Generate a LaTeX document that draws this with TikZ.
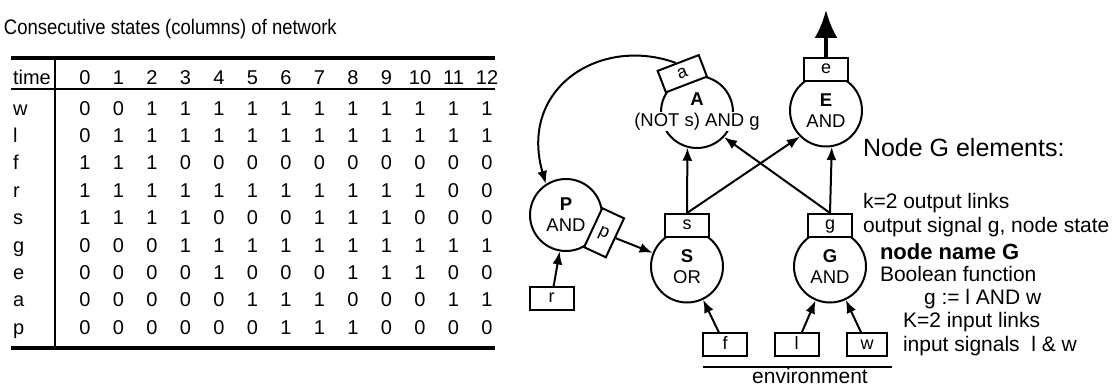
\documentclass[tikz,border=0pt]{standalone}
\usepackage{fontspec}
\setmainfont{Liberation Sans}
\newfontfamily\titlefont{Liberation Sans}[FakeStretch=0.88]
\usetikzlibrary{arrows.meta}
\usetikzlibrary{calc}
\tikzset{link/.style = {-{Latex[length = 13pt, width = 10pt]}}}
\tikzset{bigout/.style = {line width = 3.5, -{Latex[length = 28pt, width = 23pt]}}}
\tikzset{state/.style = {draw, circle, minimum size = 72, inner sep = 0, align = center,
                         font = \fontsize{18.5}{21}\selectfont}}
\tikzset{sig/.style = {draw, fill = white, minimum width = 44, minimum height = 23, inner sep = 0,
                       text height = 13, text depth = 4, font = \fontsize{18}{18}\selectfont}}
\tikzset{tab/.style = {inner sep = 0, anchor = base, font = \fontsize{20}{20}\selectfont}}
\tikzset{note/.style = {inner sep = 0, anchor = base west, font = \fontsize{21}{24}\selectfont}}
\newcommand{\onwhite}[1]{\makebox[0pt]{\setlength{\fboxsep}{1pt}\colorbox{white}{#1}}}

\begin{document}
\begin{tikzpicture}[x = 1pt, y = 1pt, line width = 2]
      \useasboundingbox (0, 0) rectangle (1114, -387);

      % table of states
      \node (title) at (3, -34.3) [note, font = \titlefont\fontsize{21}{24}\selectfont] {Consecutive states (columns) of network};
      \draw [line width = 4] (11, -58) -- (495, -58);
      \draw (11, -89) -- (495, -89);
      \draw [line width = 4] (11, -348) -- (495, -348);
      \draw (55, -58) -- (55, -348);
      \node (time) at (12, -85) [tab, anchor = base west] {time};
      \foreach \j in {0, ..., 12}
        \node (head-\j) at (85 + 33.5 * \j, -85) [tab] {\j};
      \foreach \lab/\vals [count = \i from 0] in {w/{0,0,1,1,1,1,1,1,1,1,1,1,1},
                                                  l/{0,1,1,1,1,1,1,1,1,1,1,1,1},
                                                  f/{1,1,1,0,0,0,0,0,0,0,0,0,0},
                                                  r/{1,1,1,1,1,1,1,1,1,1,1,0,0},
                                                  s/{1,1,1,1,0,0,0,1,1,1,0,0,0},
                                                  g/{0,0,0,1,1,1,1,1,1,1,1,1,1},
                                                  e/{0,0,0,0,1,0,0,0,1,1,1,0,0},
                                                  a/{0,0,0,0,0,1,1,1,0,0,0,1,1},
                                                  p/{0,0,0,0,0,0,1,1,1,0,0,0,0}} {
        \node (lab-\i) at (12, -115.2 - 27.4 * \i) [tab, anchor = base west] {\lab};
        \foreach \v [count = \j from 0] in \vals
          \node (cell-\i-\j) at (85 + 33.5 * \j, -115.2 - 27.4 * \i) [tab] {\v};
      }

      % network
      \node (A) at (697, -112) [state] {\textbf{A}\\\onwhite{(NOT s) AND g}};
      \node (E) at (826, -110.5) [state] {\textbf{E}\\AND};
      \node (P) at (566, -215) [state] {\textbf{P}\\AND};
      \node (S) at (687, -266.5) [state] {\textbf{S}\\OR};
      \node (G) at (830, -266.5) [state] {\textbf{G}\\AND};

      \node (a) at ($(A) + (111:28.5)$) [sig, anchor = south, rotate = 21] {a};
      \node (e) at ($(E) + (90:28.5)$) [sig, anchor = south] {e};
      \node (s) at ($(S) + (90:28.5)$) [sig, anchor = south] {s};
      \node (g) at ($(G) + (90:28.5)$) [sig, anchor = south] {g};
      \node (p) at ($(P) + (-25:29)$) [sig, anchor = west, rotate = -25,
                                       minimum width = 24, minimum height = 43] {p};

      \node (r) at (551.5, -298.5) [sig] {r};
      \node (f) at (725, -345) [sig] {f};
      \node (l) at (796.5, -345) [sig] {l};
      \node (w) at (867, -345) [sig, minimum width = 40] {w};

      \draw [link] (r) -- (P);
      \draw [link] (p.east) -- (S);
      \draw [link] (f) -- (S);
      \draw [link] (l) -- (G);
      \draw [link] (w) -- (G);
      \draw [link] (s.north) -- (A.255);
      \draw [link] (s.north) -- (E.225);
      \draw [link] (g.north) -- (A.317);
      \draw [link] (g.north) -- (E.279);
      \draw [link] ($(a.north west)!0.45!(a.north east)$) .. controls +(160:80) and +(106:100) .. (P.123);
      \coordinate (out) at (826, -10);
      \draw [bigout] (e.north) -- (out);

      \coordinate (env-l) at (703, -367);
      \coordinate (env-r) at (892, -367);
      \draw [line width = 1.5] (env-l) -- (env-r);
      \node (env) at (810, -383) [note, anchor = base] {environment};

      % description of node G
      \node (elems) at (862, -157) [note, font = \fontsize{25}{28}\selectfont] {Node G elements:};
      \node (outk) at (862, -209) [note] {k=2 output links};
      \node (outsig) at (862, -233) [note] {output signal g, node state};
      \node (gname) at (879, -260) [note, font = \fontsize{22}{24}\selectfont\bfseries] {node name G};
      \node (bool) at (879, -282) [note] {Boolean function};
      \node (gfun) at (923, -305) [note] {g := l AND w};
      \node (ink) at (902, -328) [note] {K=2 input links};
      \node (insig) at (902, -352) [note] {input signals~~l \& w};
    \end{tikzpicture}
\end{document}
